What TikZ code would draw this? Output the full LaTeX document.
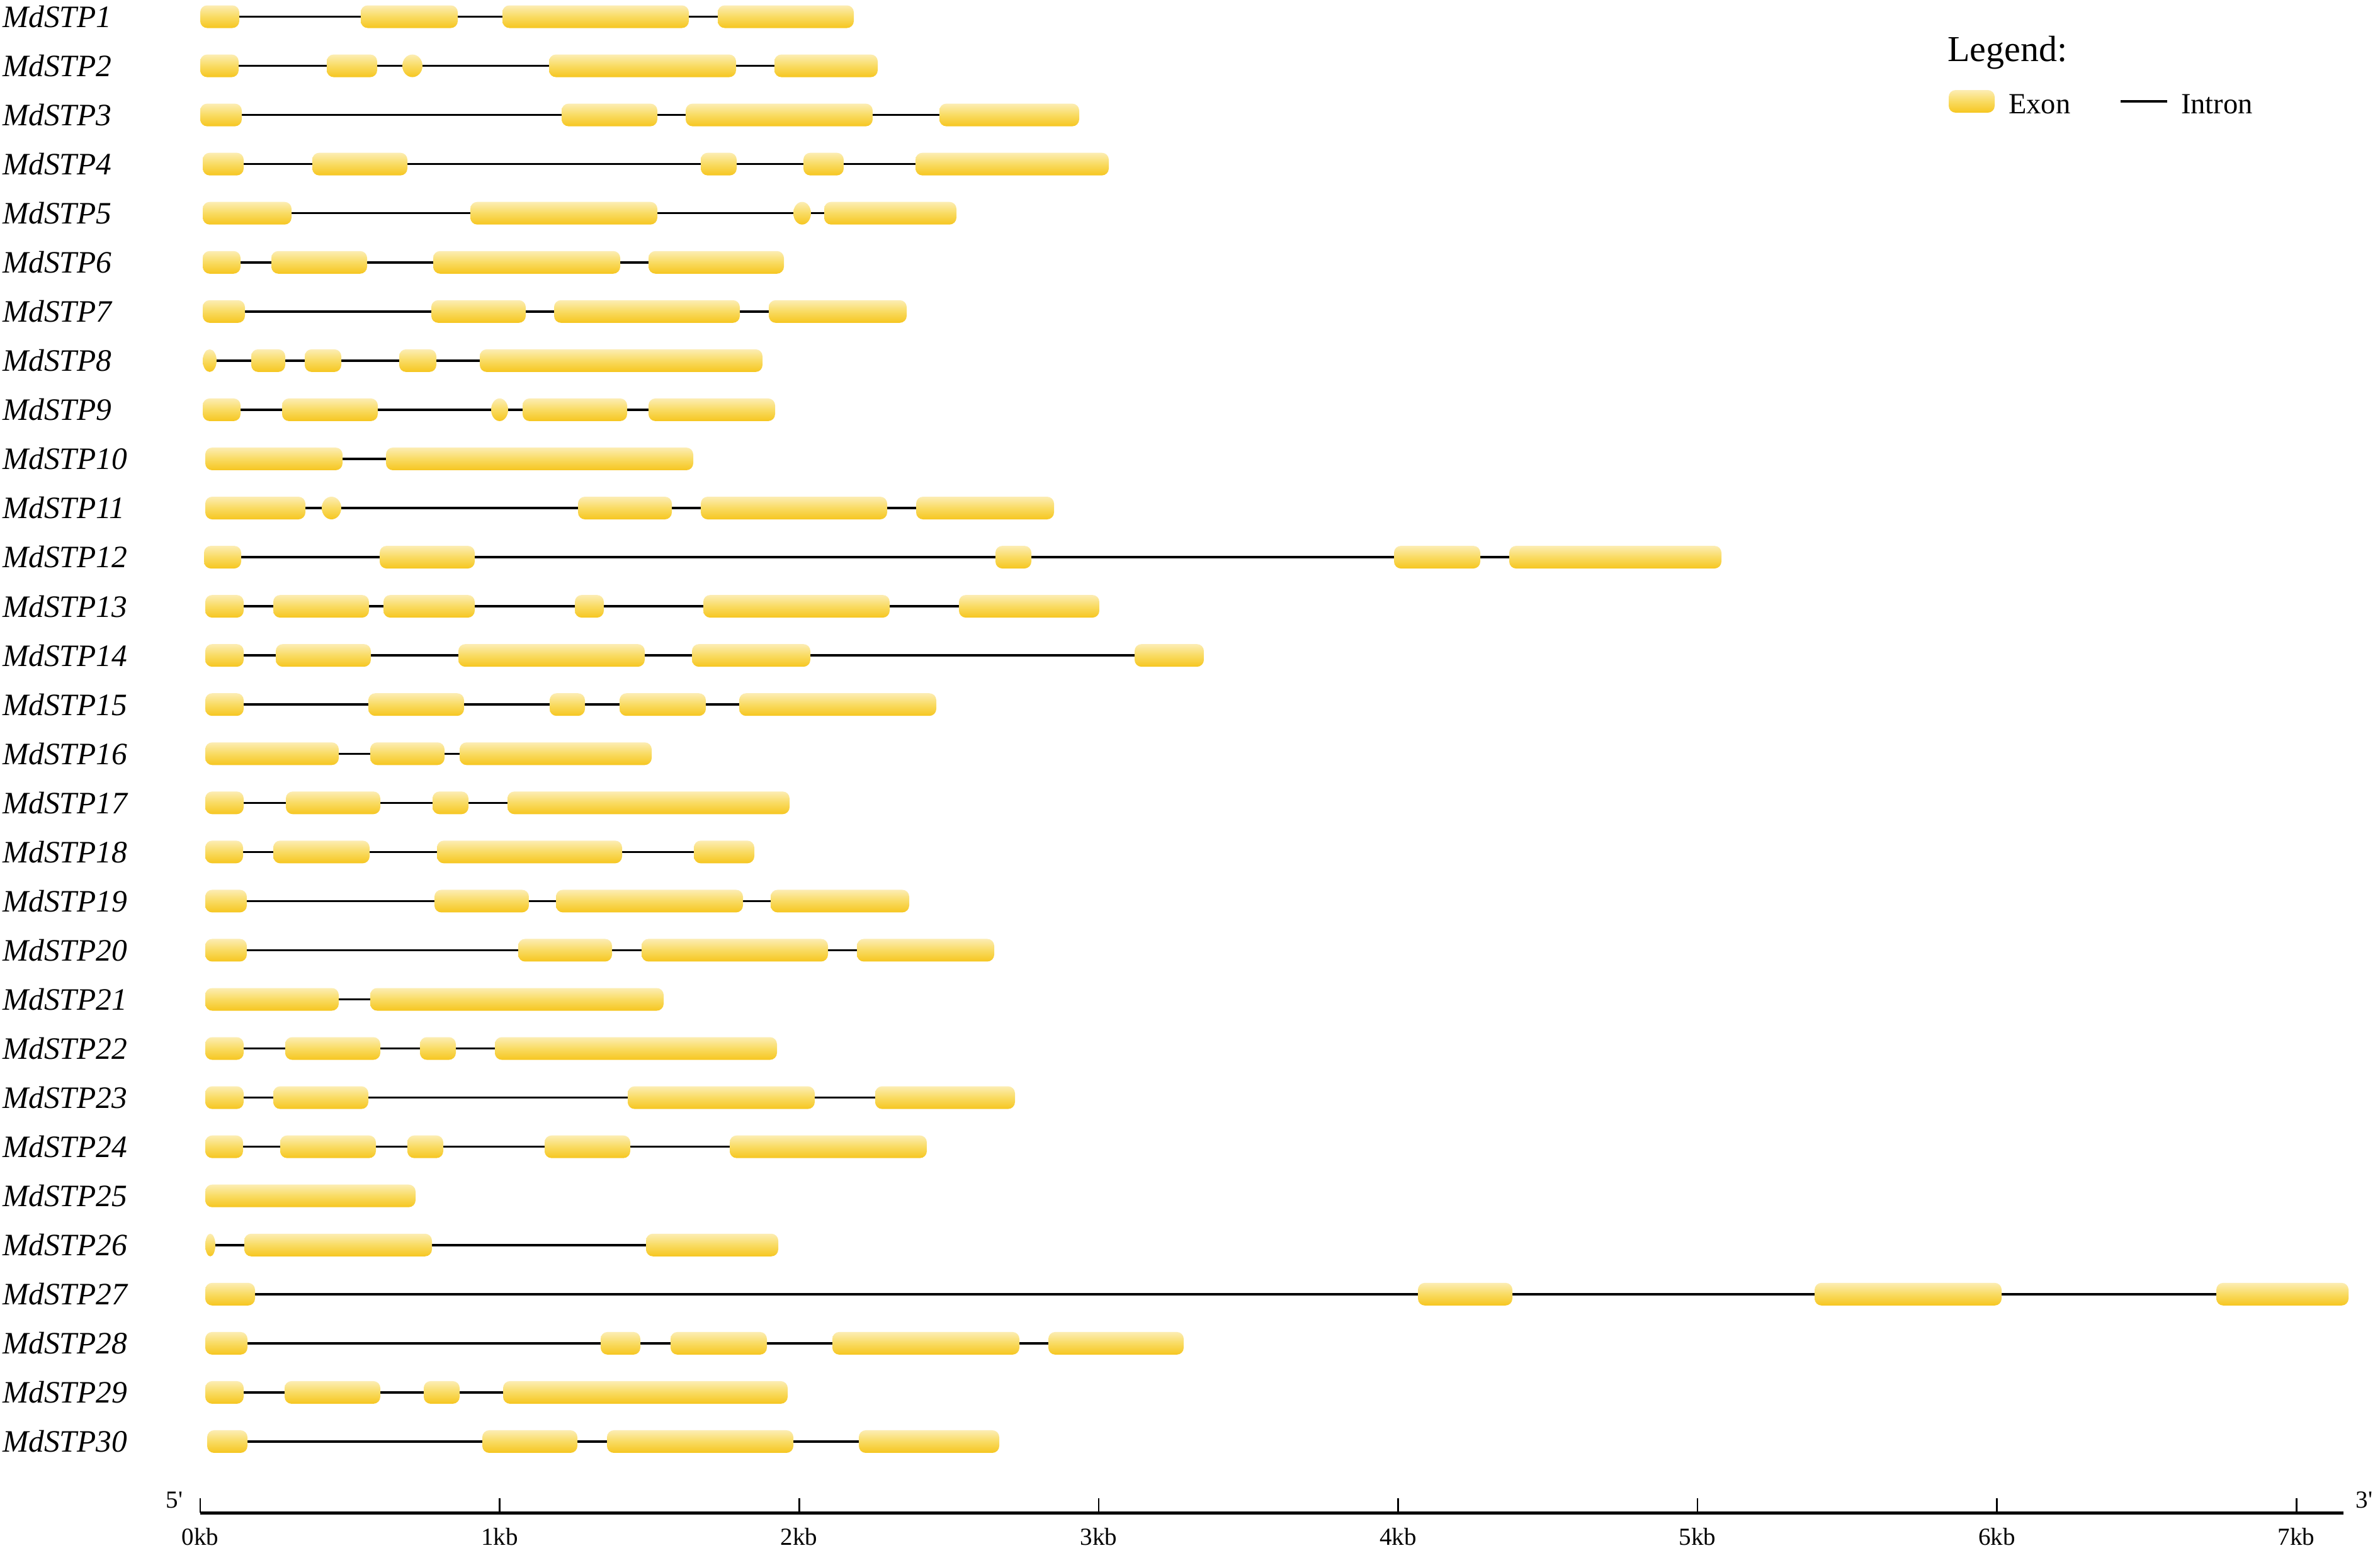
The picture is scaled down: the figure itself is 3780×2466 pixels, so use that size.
\documentclass[tikz,border=0pt]{standalone}
\usepackage{fontspec}
\setmainfont{Liberation Serif}
\definecolor{exontop}{RGB}{252,237,180}
\definecolor{exonmid}{RGB}{249,219,98}
\definecolor{exonbot}{RGB}{246,198,32}
\tikzset{
  exonfill/.style={top color=exontop, bottom color=exonbot, middle color=exonmid, draw=none, rounded corners=11pt},
  intronline/.style={line width=3.5pt, black},
  genelabel/.style={anchor=west, inner sep=0pt, font=\itshape\fontsize{49.5}{52}\selectfont},
  ticklabel/.style={inner sep=0pt, font=\fontsize{39}{42}\selectfont},
  axisline/.style={line width=5pt, black},
  tickline/.style={line width=2.6pt, black},
  legendtext/.style={anchor=west, inner sep=0pt, font=\fontsize{46.5}{50}\selectfont},
}
\newcommand{\exonshape}[3]{%
  \pgfmathsetmacro{\exonW}{#2-#1}%
  \ifdim\exonW pt<40pt\relax
    \pgfmathsetmacro{\exonC}{(#1+#2)/2}%
    \pgfmathsetmacro{\exonR}{\exonW/2}%
    \path[exonfill] (\exonC,#3) ellipse [x radius=\exonR pt, y radius=18pt];
  \else
    \path[exonfill] (#1,#3-18) rectangle (#2,#3+18);
  \fi}
\begin{document}
\begin{tikzpicture}[x=1pt,y=-1pt]
\useasboundingbox (0,0) rectangle (3780,2466);
\fill[white] (0,0) rectangle (3780,2466);
\foreach \n/\s/\e/\ex in {
 1/318/1356/{318/380,573/727,798/1094,1140/1356},
 2/318/1394/{318/379,519/599,639/671,872/1169,1230/1394},
 3/318/1714/{318/384,892/1044,1089/1386,1492/1714},
 4/322/1761/{322/387,496/647,1113/1170,1276/1340,1454/1761},
 5/322/1519/{322/463,747/1044,1260/1288,1309/1519},
 6/322/1245/{322/382,431/583,688/985,1030/1245},
 7/322/1440/{322/389,685/835,880/1175,1221/1440},
 8/322/1211/{322/344,399/453,484/542,634/693,762/1211},
 9/322/1231/{322/382,448/600,780/807,830/996,1030/1231},
 10/326/1101/{326/544,613/1101},
 11/326/1674/{326/485,511/542,918/1067,1113/1409,1455/1674},
 12/324/2734/{324/383,603/754,1581/1638,2214/2351,2397/2734},
 13/326/1746/{326/387,434/586,609/754,913/959,1117/1413,1523/1746},
 14/326/1912/{326/387,438/589,728/1024,1099/1287,1802/1912},
 15/326/1487/{326/387,585/737,873/929,984/1121,1174/1487},
 16/326/1035/{326/538,588/706,730/1035},
 17/326/1254/{326/387,454/604,687/744,806/1254},
 18/326/1198/{326/386,434/587,694/988,1102/1198},
 19/326/1444/{326/392,690/840,883/1180,1224/1444},
 20/326/1579/{326/392,823/972,1019/1315,1361/1579},
 21/326/1054/{326/538,588/1054},
 22/326/1234/{326/387,453/604,667/724,786/1234},
 23/326/1612/{326/387,434/585,997/1294,1390/1612},
 24/326/1472/{326/386,445/597,647/704,865/1001,1159/1472},
 25/326/660/{326/660},
 26/326/1236/{326/342,388/686,1026/1236},
 27/326/3730/{326/405,2252/2402,2882/3179,3520/3730},
 28/326/1880/{326/393,954/1017,1065/1218,1322/1619,1665/1880},
 29/326/1251/{326/387,452/604,673/730,799/1251},
 30/329/1587/{329/393,766/917,964/1260,1364/1587}}
{
  \pgfmathsetmacro{\yy}{26.5+(\n-1)*78.05}
  \coordinate (s\n) at (\s,\yy);
  \coordinate (e\n) at (\e,\yy);
  \draw[intronline] (s\n) -- (e\n);
  \foreach \a/\b in \ex {\exonshape{\a}{\b}{\yy}}
  \node[genelabel] (g\n) at (4,\yy) {MdSTP\n};
}
% axis
\coordinate (ax0) at (318,2403);
\coordinate (ax1) at (3722,2403);
\draw[axisline] (ax0) -- (ax1);
\foreach \k in {0,...,7}{
  \coordinate (tk\k) at ({318+\k*475.6},2403);
  \draw[tickline] (tk\k) -- ++(0,-23);
  \node[ticklabel] (tl\k) at ({318+\k*475.6},2441) {\k kb};
}
\node[ticklabel] (five) at (277,2383) {5\textquotesingle};
\node[ticklabel] (three) at (3755,2383) {3\textquotesingle};
% legend
\node[anchor=west, inner sep=0pt, font=\fontsize{58}{62}\selectfont] (leg) at (3093,84) {Legend:};
\path[exonfill] (3095,143) rectangle (3168,179);
\node[legendtext] (lexon) at (3190,165) {Exon};
\coordinate (li0) at (3368,161);
\coordinate (li1) at (3442,161);
\draw[intronline] (li0) -- (li1);
\node[legendtext] (lintron) at (3464,165) {Intron};
\end{tikzpicture}
\end{document}
